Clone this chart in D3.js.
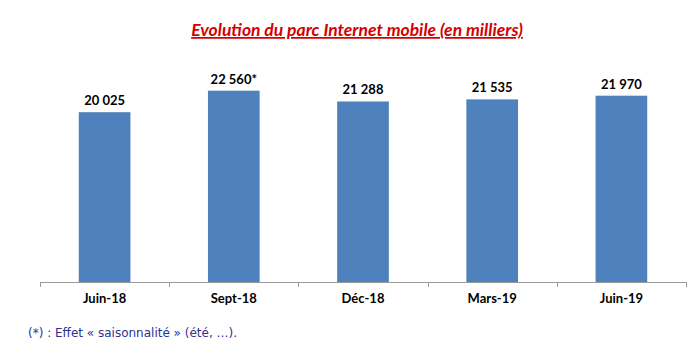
<!DOCTYPE html>
<html>
<head>
<meta charset="utf-8">
<script src="https://cdn.jsdelivr.net/npm/d3@7"></script>
<style>
  body { margin: 0; background: #fff; }
</style>
</head>
<body>
<svg id="chart" width="700" height="354"></svg>
<script>
const categories = ['Juin-18', 'Sept-18', 'Déc-18', 'Mars-19', 'Juin-19']
const values = [20025, 22560, 21288, 21535, 21970]
const valueLabels = ['20 025', '22 560*', '21 288', '21 535', '21 970']

const svg = d3.select('#chart')

const x = d3.scaleBand()
  .domain(categories)
  .range([40, 686])
  .paddingInner(0.6)
  .paddingOuter(0.3)

const y = d3.scaleLinear()
  .domain([0, 25000])
  .range([282, 70])

// title
svg.append('text')
  .attr('x', 357)
  .attr('y', 36)
  .attr('text-anchor', 'middle')
  .style('font', 'italic bold 17.5px Lato, sans-serif')
  .style('text-decoration', 'underline')
  .attr('fill', '#d40000')
  .text('Evolution du parc Internet mobile (en milliers)')

// bars
svg.append('g')
  .selectAll('rect')
  .data(values)
  .enter().append('rect')
  .attr('x', (d, i) => x(categories[i]))
  .attr('width', x.bandwidth())
  .attr('y', d => y(d))
  .attr('height', d => y(0) - y(d))
  .attr('fill', '#4f81bd')

// value labels
svg.append('g')
  .selectAll('text')
  .data(values)
  .enter().append('text')
  .attr('x', (d, i) => x(categories[i]) + x.bandwidth() / 2)
  .attr('y', d => y(d) - 7)
  .attr('text-anchor', 'middle')
  .style('font', 'bold 13px Lato, sans-serif')
  .attr('fill', '#000')
  .text((d, i) => valueLabels[i])

// axis
const axis = svg.append('g')
  .attr('transform', 'translate(0,' + y(0) + ')')
  .call(d3.axisBottom(x).tickSize(0).tickPadding(12))
axis.select('.domain').attr('stroke', '#9a9a9a').attr('d', 'M40.5,0.5H686.5')
axis.selectAll('text')
  .style('font', 'bold 13px Lato, sans-serif')
  .attr('fill', '#000')

// ticks between categories
const step = x.step()
const bounds = d3.range(categories.length + 1).map(i => 40 + i * step)
svg.append('g')
  .selectAll('line')
  .data(bounds)
  .enter().append('line')
  .attr('x1', d => Math.round(d) + 0.5)
  .attr('x2', d => Math.round(d) + 0.5)
  .attr('y1', y(0))
  .attr('y2', y(0) + 5)
  .attr('stroke', '#9a9a9a')

// footnote
svg.append('text')
  .attr('x', 28)
  .attr('y', 337)
  .style('font', '12px "DejaVu Sans", sans-serif')
  .attr('fill', '#2e3192')
  .text('(*) : Effet « saisonnalité » (été, …).')
</script>
</body>
</html>
